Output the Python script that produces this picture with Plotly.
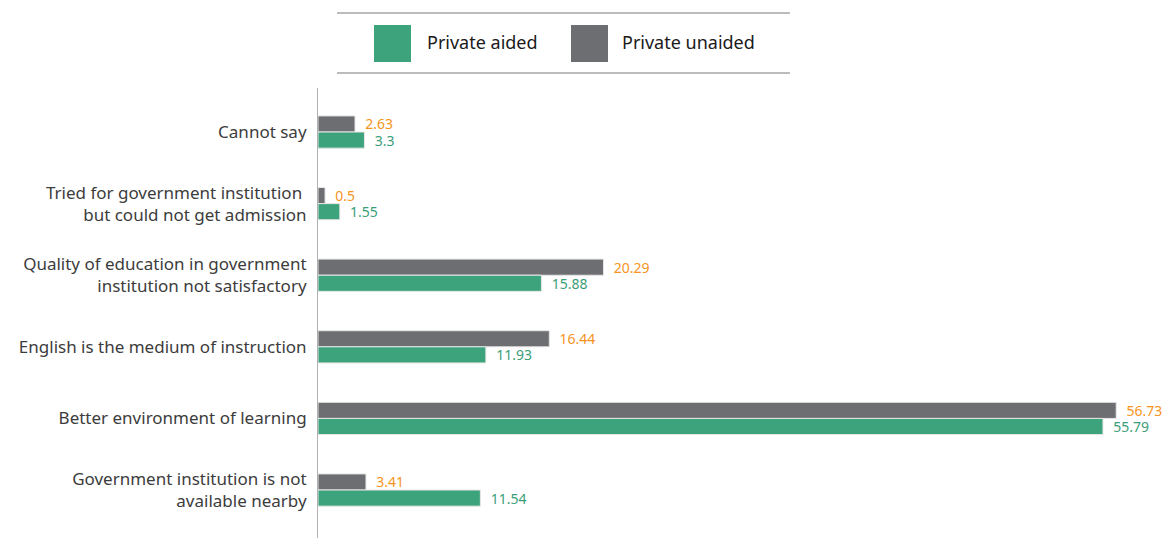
import plotly.graph_objects as go

# Reasons for choosing a private institution (% of respondents)
categories = [
    "Cannot say",
    "Tried for government institution <br>but could not get admission",
    "Quality of education in government<br>institution not satisfactory",
    "English is the medium of instruction",
    "Better environment of learning",
    "Government institution is not<br>available nearby",
]
private_aided = [3.3, 1.55, 15.88, 11.93, 55.79, 11.54]
private_unaided = [2.63, 0.5, 20.29, 16.44, 56.73, 3.41]
series_names = ["Private aided", "Private unaided"]

GREEN = "#3da37c"
GRAY = "#6d6e71"
ORANGE = "#f7941d"
LABEL_GREEN = "#3a9e78"
FONT = "Noto Sans, sans-serif"

W, H = 1172, 538
L, R, T, B = 318, 52, 88, 0
plot_w = W - L - R
plot_h = H - T - B


def to_paper_x(px):
    return (px - L) / plot_w


def to_paper_y(py):
    return (H - B - py) / plot_h


fig = go.Figure()

# Unaided first so it sits above the aided bar within each group (reversed axis)
for vals, name, color, label_color in [
    (private_unaided, series_names[1], GRAY, ORANGE),
    (private_aided, series_names[0], GREEN, LABEL_GREEN),
]:
    fig.add_trace(go.Bar(
        y=categories, x=vals, orientation="h", name=name,
        marker=dict(color=color, line=dict(color="#e6e6e6", width=1)),
        text=[f"{v:g}" for v in vals], texttemplate="  %{text}",
        textposition="outside", cliponaxis=False, constraintext="none",
        textfont=dict(color=label_color, size=14, family=FONT),
        showlegend=False,
    ))

# Legend block: two rules with colour swatches and labels between them
shapes = []
annotations = []
for y_rule in (13, 73):
    shapes.append(dict(type="line", xref="paper", yref="paper",
                       x0=to_paper_x(337), x1=to_paper_x(790),
                       y0=to_paper_y(y_rule), y1=to_paper_y(y_rule),
                       line=dict(color="#7a7a7a", width=1.2)))
swatches = [(series_names[0], GREEN, 374, 425), (series_names[1], GRAY, 571, 620)]
for name, color, sx, tx in swatches:
    shapes.append(dict(type="rect", xref="paper", yref="paper",
                       x0=to_paper_x(sx), x1=to_paper_x(sx + 37),
                       y0=to_paper_y(62), y1=to_paper_y(25),
                       line=dict(width=0), fillcolor=color))
    annotations.append(dict(xref="paper", yref="paper", x=to_paper_x(tx), y=to_paper_y(42),
                            text=name, showarrow=False, xanchor="left", yanchor="middle",
                            font=dict(size=18, color="#1a1a1a", family=FONT)))

fig.update_layout(
    width=W, height=H,
    margin=dict(l=L, r=R, t=T, b=B, pad=0),
    paper_bgcolor="white", plot_bgcolor="white",
    barmode="group", bargap=0.55, bargroupgap=0,
    font=dict(family=FONT, size=17, color="#3c3c3c"),
    xaxis=dict(range=[0, 57], showgrid=False, zeroline=False, showticklabels=False,
               showline=False, ticks=""),
    yaxis=dict(range=[5.67, -0.615], showgrid=False, zeroline=False, showline=True,
               linecolor="#b0b0b0", linewidth=1, ticks="", ticklabelstandoff=7,
               tickfont=dict(size=17, color="#3c3c3c", family=FONT)),
    shapes=shapes, annotations=annotations,
)

fig.write_html("out.html")
